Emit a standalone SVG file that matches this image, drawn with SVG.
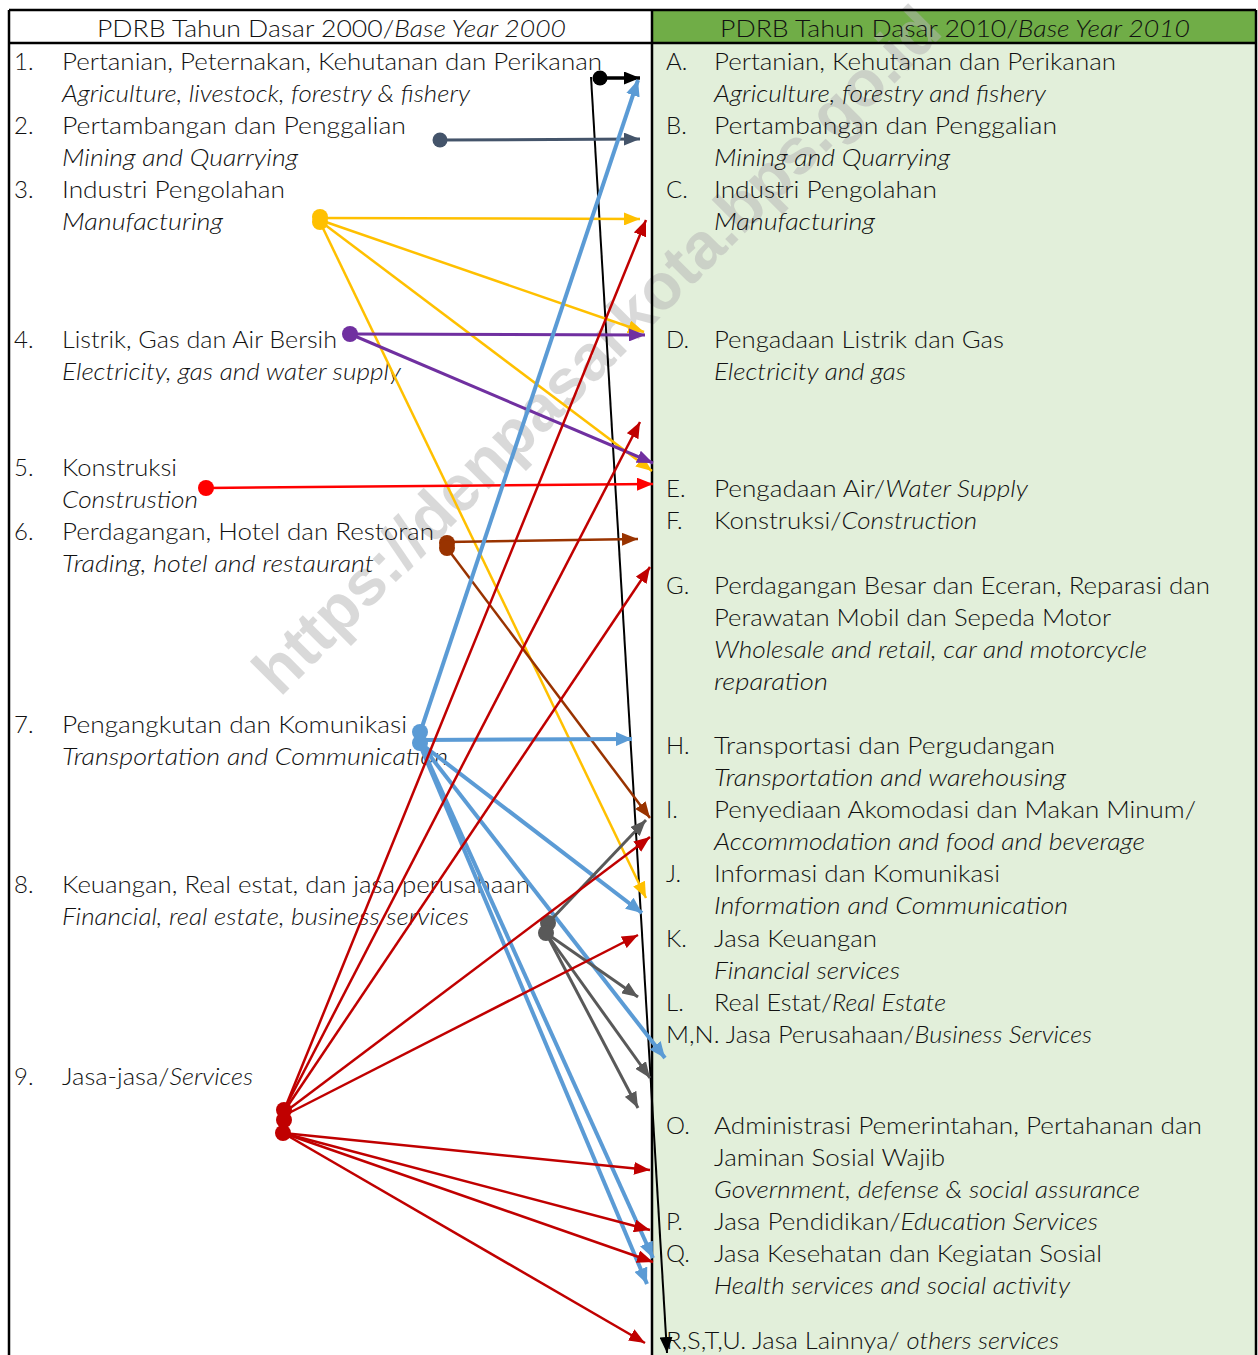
<svg xmlns="http://www.w3.org/2000/svg" width="1258" height="1355" viewBox="0 0 1258 1355">
<style>
text{font-family:"Lato","Liberation Sans",sans-serif;font-weight:300;font-size:24px;fill:#111}
.i{font-style:italic}
.wm{font-family:"Liberation Sans",sans-serif;font-weight:700;font-size:65px;fill:#b5b5b5;opacity:0.5}
.grid{stroke:#000;stroke-width:2.5;fill:none}
line{fill:none;stroke-linecap:butt}
.k{stroke:#000;stroke-width:2;marker-end:url(#mk)}
.k3{stroke:#000;stroke-width:3.5;marker-end:url(#mk)}
.nv{stroke:#44546A;stroke-width:3;marker-end:url(#mnv)}
.y{stroke:#FFC000;stroke-width:2.5;marker-end:url(#my)}
.p{stroke:#7030A0;stroke-width:3;marker-end:url(#mp)}
.r{stroke:#FF0000;stroke-width:2.5;marker-end:url(#mr)}
.br{stroke:#993300;stroke-width:2.5;marker-end:url(#mbr)}
.b{stroke:#5B9BD5;stroke-width:4;marker-end:url(#mb)}
.g{stroke:#595959;stroke-width:3;marker-end:url(#mg)}
.dr{stroke:#C00000;stroke-width:2.5;marker-end:url(#mdr)}
</style>
<defs>
<marker id="mk" markerUnits="userSpaceOnUse" viewBox="0 0 16 13" refX="16" refY="6.5" markerWidth="16" markerHeight="13" orient="auto"><path d="M0,0 L16,6.5 L0,13 z" fill="#000"/></marker>
<marker id="mnv" markerUnits="userSpaceOnUse" viewBox="0 0 16 13" refX="16" refY="6.5" markerWidth="16" markerHeight="13" orient="auto"><path d="M0,0 L16,6.5 L0,13 z" fill="#44546A"/></marker>
<marker id="my" markerUnits="userSpaceOnUse" viewBox="0 0 16 13" refX="16" refY="6.5" markerWidth="16" markerHeight="13" orient="auto"><path d="M0,0 L16,6.5 L0,13 z" fill="#FFC000"/></marker>
<marker id="mp" markerUnits="userSpaceOnUse" viewBox="0 0 16 13" refX="16" refY="6.5" markerWidth="16" markerHeight="13" orient="auto"><path d="M0,0 L16,6.5 L0,13 z" fill="#7030A0"/></marker>
<marker id="mr" markerUnits="userSpaceOnUse" viewBox="0 0 16 13" refX="16" refY="6.5" markerWidth="16" markerHeight="13" orient="auto"><path d="M0,0 L16,6.5 L0,13 z" fill="#FF0000"/></marker>
<marker id="mbr" markerUnits="userSpaceOnUse" viewBox="0 0 16 13" refX="16" refY="6.5" markerWidth="16" markerHeight="13" orient="auto"><path d="M0,0 L16,6.5 L0,13 z" fill="#993300"/></marker>
<marker id="mb" markerUnits="userSpaceOnUse" viewBox="0 0 16 14" refX="16" refY="7" markerWidth="16" markerHeight="14" orient="auto"><path d="M0,0 L16,7 L0,14 z" fill="#5B9BD5"/></marker>
<marker id="mg" markerUnits="userSpaceOnUse" viewBox="0 0 16 13" refX="16" refY="6.5" markerWidth="16" markerHeight="13" orient="auto"><path d="M0,0 L16,6.5 L0,13 z" fill="#595959"/></marker>
<marker id="mdr" markerUnits="userSpaceOnUse" viewBox="0 0 16 13" refX="16" refY="6.5" markerWidth="16" markerHeight="13" orient="auto"><path d="M0,0 L16,6.5 L0,13 z" fill="#C00000"/></marker>
</defs>

<g id="table-bg">
<rect x="0" y="0" width="1258" height="1355" fill="#fff"/>
<rect x="652" y="10" width="604" height="33" fill="#70AD47"/>
<rect x="652" y="43" width="604" height="1312" fill="#E2EFDA"/>
</g>

<g id="watermark">
<text class="wm" transform="translate(280,698) rotate(-45)" textLength="940" lengthAdjust="spacingAndGlyphs">https://denpasarkota.bps.go.id</text>
</g>

<g id="header-2000"><text x="97" y="37" textLength="469" lengthAdjust="spacingAndGlyphs">PDRB Tahun Dasar 2000/<tspan class="i">Base Year 2000</tspan></text></g>
<g id="header-2010"><text x="720" y="37" textLength="470" lengthAdjust="spacingAndGlyphs">PDRB Tahun Dasar 2010/<tspan class="i">Base Year 2010</tspan></text></g>

<g id="left-1"><text x="14" y="70">1.</text><text x="62" y="70" textLength="540" lengthAdjust="spacingAndGlyphs">Pertanian, Peternakan, Kehutanan dan Perikanan</text><text class="i" x="62" y="102" textLength="408" lengthAdjust="spacingAndGlyphs">Agriculture, livestock, forestry &amp; fishery</text></g>
<g id="left-2"><text x="14" y="134">2.</text><text x="62" y="134" textLength="344" lengthAdjust="spacingAndGlyphs">Pertambangan dan Penggalian</text><text class="i" x="62" y="166" textLength="236" lengthAdjust="spacingAndGlyphs">Mining and Quarrying</text></g>
<g id="left-3"><text x="14" y="198">3.</text><text x="62" y="198" textLength="223" lengthAdjust="spacingAndGlyphs">Industri Pengolahan</text><text class="i" x="62" y="230" textLength="161" lengthAdjust="spacingAndGlyphs">Manufacturing</text></g>
<g id="left-4"><text x="14" y="348">4.</text><text x="62" y="348" textLength="275" lengthAdjust="spacingAndGlyphs">Listrik, Gas dan Air Bersih</text><text class="i" x="62" y="380" textLength="339" lengthAdjust="spacingAndGlyphs">Electricity, gas and water supply</text></g>
<g id="left-5"><text x="14" y="476">5.</text><text x="62" y="476" textLength="115" lengthAdjust="spacingAndGlyphs">Konstruksi</text><text class="i" x="62" y="508" textLength="136" lengthAdjust="spacingAndGlyphs">Construstion</text></g>
<g id="left-6"><text x="14" y="540">6.</text><text x="62" y="540" textLength="372" lengthAdjust="spacingAndGlyphs">Perdagangan, Hotel dan Restoran</text><text class="i" x="62" y="572" textLength="312" lengthAdjust="spacingAndGlyphs">Trading, hotel and restaurant</text></g>
<g id="left-7"><text x="14" y="733">7.</text><text x="62" y="733" textLength="345" lengthAdjust="spacingAndGlyphs">Pengangkutan dan Komunikasi</text><text class="i" x="62" y="765" textLength="386" lengthAdjust="spacingAndGlyphs">Transportation and Communication</text></g>
<g id="left-8"><text x="14" y="893">8.</text><text x="62" y="893" textLength="468" lengthAdjust="spacingAndGlyphs">Keuangan, Real estat, dan jasa perusahaan</text><text class="i" x="62" y="925" textLength="407" lengthAdjust="spacingAndGlyphs">Financial, real estate, business services</text></g>
<g id="left-9"><text x="14" y="1085">9.</text><text x="62" y="1085" textLength="191" lengthAdjust="spacingAndGlyphs">Jasa-jasa/<tspan class="i">Services</tspan></text></g>

<g id="right-A"><text x="666" y="70">A.</text><text x="714" y="70" textLength="402" lengthAdjust="spacingAndGlyphs">Pertanian, Kehutanan dan Perikanan</text><text class="i" x="714" y="102" textLength="332" lengthAdjust="spacingAndGlyphs">Agriculture, forestry and fishery</text></g>
<g id="right-B"><text x="666" y="134">B.</text><text x="714" y="134" textLength="343" lengthAdjust="spacingAndGlyphs">Pertambangan dan Penggalian</text><text class="i" x="714" y="166" textLength="236" lengthAdjust="spacingAndGlyphs">Mining and Quarrying</text></g>
<g id="right-C"><text x="666" y="198">C.</text><text x="714" y="198" textLength="223" lengthAdjust="spacingAndGlyphs">Industri Pengolahan</text><text class="i" x="714" y="230" textLength="161" lengthAdjust="spacingAndGlyphs">Manufacturing</text></g>
<g id="right-D"><text x="666" y="348">D.</text><text x="714" y="348" textLength="290" lengthAdjust="spacingAndGlyphs">Pengadaan Listrik dan Gas</text><text class="i" x="714" y="380" textLength="192" lengthAdjust="spacingAndGlyphs">Electricity and gas</text></g>
<g id="right-E"><text x="666" y="497">E.</text><text x="714" y="497" textLength="314" lengthAdjust="spacingAndGlyphs">Pengadaan Air/<tspan class="i">Water Supply</tspan></text></g>
<g id="right-F"><text x="666" y="529">F.</text><text x="714" y="529" textLength="263" lengthAdjust="spacingAndGlyphs">Konstruksi/<tspan class="i">Construction</tspan></text></g>
<g id="right-G"><text x="666" y="594">G.</text><text x="714" y="594" textLength="496" lengthAdjust="spacingAndGlyphs">Perdagangan Besar dan Eceran, Reparasi dan</text><text x="714" y="626" textLength="397" lengthAdjust="spacingAndGlyphs">Perawatan Mobil dan Sepeda Motor</text><text class="i" x="714" y="658" textLength="433" lengthAdjust="spacingAndGlyphs">Wholesale and retail, car and motorcycle</text><text class="i" x="714" y="690" textLength="114" lengthAdjust="spacingAndGlyphs">reparation</text></g>
<g id="right-H"><text x="666" y="754">H.</text><text x="714" y="754" textLength="341" lengthAdjust="spacingAndGlyphs">Transportasi dan Pergudangan</text><text class="i" x="714" y="786" textLength="352" lengthAdjust="spacingAndGlyphs">Transportation and warehousing</text></g>
<g id="right-I"><text x="666" y="818">I.</text><text x="714" y="818" textLength="482" lengthAdjust="spacingAndGlyphs">Penyediaan Akomodasi dan Makan Minum/</text><text class="i" x="714" y="850" textLength="431" lengthAdjust="spacingAndGlyphs">Accommodation and food and beverage</text></g>
<g id="right-J"><text x="666" y="882">J.</text><text x="714" y="882" textLength="286" lengthAdjust="spacingAndGlyphs">Informasi dan Komunikasi</text><text class="i" x="714" y="914" textLength="354" lengthAdjust="spacingAndGlyphs">Information and Communication</text></g>
<g id="right-K"><text x="666" y="947">K.</text><text x="714" y="947" textLength="163" lengthAdjust="spacingAndGlyphs">Jasa Keuangan</text><text class="i" x="714" y="979" textLength="186" lengthAdjust="spacingAndGlyphs">Financial services</text></g>
<g id="right-L"><text x="666" y="1011">L.</text><text x="714" y="1011" textLength="232" lengthAdjust="spacingAndGlyphs">Real Estat/<tspan class="i">Real Estate</tspan></text></g>
<g id="right-MN"><text x="666" y="1043" textLength="426" lengthAdjust="spacingAndGlyphs">M,N. Jasa Perusahaan/<tspan class="i">Business Services</tspan></text></g>
<g id="right-O"><text x="666" y="1134">O.</text><text x="714" y="1134" textLength="488" lengthAdjust="spacingAndGlyphs">Administrasi Pemerintahan, Pertahanan dan</text><text x="714" y="1166" textLength="231" lengthAdjust="spacingAndGlyphs">Jaminan Sosial Wajib</text><text class="i" x="714" y="1198" textLength="426" lengthAdjust="spacingAndGlyphs">Government, defense &amp; social assurance</text></g>
<g id="right-P"><text x="666" y="1230">P.</text><text x="714" y="1230" textLength="384" lengthAdjust="spacingAndGlyphs">Jasa Pendidikan/<tspan class="i">Education Services</tspan></text></g>
<g id="right-Q"><text x="666" y="1262">Q.</text><text x="714" y="1262" textLength="388" lengthAdjust="spacingAndGlyphs">Jasa Kesehatan dan Kegiatan Sosial</text><text class="i" x="714" y="1294" textLength="356" lengthAdjust="spacingAndGlyphs">Health services and social activity</text></g>
<g id="right-RSTU"><text x="666" y="1349" textLength="393" lengthAdjust="spacingAndGlyphs">R,S,T,U. Jasa Lainnya/ <tspan class="i">others services</tspan></text></g>

<g id="table-grid" class="grid">
<line x1="9" y1="10" x2="1256" y2="10"/>
<line x1="9" y1="43" x2="1256" y2="43"/>
<line x1="9" y1="10" x2="9" y2="1355"/>
<line x1="652" y1="10" x2="652" y2="1355"/>
<line x1="1256" y1="10" x2="1256" y2="1355"/>
</g>

<g id="connectors">
<line class="k" x1="591" y1="77" x2="667" y2="1353"/>
<line class="k3" x1="600" y1="78" x2="640" y2="78"/>
<circle cx="600" cy="78" r="7.5" fill="#000"/>

<line class="nv" x1="440" y1="140" x2="640" y2="139"/>
<circle cx="440" cy="140" r="7.5" fill="#44546A"/>

<line class="y" x1="320" y1="218" x2="640" y2="219"/>
<line class="y" x1="320" y1="220" x2="644" y2="332"/>
<line class="y" x1="320" y1="221" x2="652" y2="471"/>
<line class="y" x1="320" y1="222" x2="646" y2="898"/>
<circle cx="320" cy="217" r="8" fill="#FFC000"/>
<circle cx="320" cy="222" r="8" fill="#FFC000"/>

<line class="p" x1="350" y1="334" x2="645" y2="335"/>
<line class="p" x1="350" y1="334" x2="653" y2="463"/>
<circle cx="350" cy="334" r="8" fill="#7030A0"/>

<line class="r" x1="206" y1="488" x2="653" y2="484"/>
<circle cx="206" cy="488" r="8" fill="#FF0000"/>

<line class="br" x1="447" y1="542" x2="638" y2="539"/>
<line class="br" x1="447" y1="548" x2="650" y2="818"/>
<circle cx="447" cy="543" r="8" fill="#993300"/>
<circle cx="447" cy="548" r="8" fill="#993300"/>

<line class="b" x1="420" y1="733" x2="638" y2="80"/>
<line class="b" x1="420" y1="740" x2="632" y2="739"/>
<line class="b" x1="420" y1="743" x2="642" y2="913"/>
<line class="b" x1="420" y1="743" x2="665" y2="1058"/>
<line class="b" x1="420" y1="743" x2="653" y2="1258"/>
<line class="b" x1="420" y1="745" x2="647" y2="1284"/>
<circle cx="420" cy="732" r="8" fill="#5B9BD5"/>
<circle cx="420" cy="743" r="8" fill="#5B9BD5"/>

<line class="g" x1="548" y1="923" x2="646" y2="820"/>
<line class="g" x1="546" y1="933" x2="638" y2="997"/>
<line class="g" x1="546" y1="933" x2="650" y2="1078"/>
<line class="g" x1="546" y1="933" x2="638" y2="1108"/>
<circle cx="548" cy="923" r="8" fill="#595959"/>
<circle cx="546" cy="933" r="8" fill="#595959"/>

<line class="dr" x1="285" y1="1108" x2="646" y2="220"/>
<line class="dr" x1="285" y1="1108" x2="640" y2="422"/>
<line class="dr" x1="285" y1="1110" x2="650" y2="567"/>
<line class="dr" x1="285" y1="1112" x2="650" y2="837"/>
<line class="dr" x1="285" y1="1115" x2="638" y2="935"/>
<line class="dr" x1="283" y1="1133" x2="650" y2="1170"/>
<line class="dr" x1="283" y1="1133" x2="650" y2="1230"/>
<line class="dr" x1="283" y1="1133" x2="653" y2="1262"/>
<line class="dr" x1="283" y1="1133" x2="645" y2="1343"/>
<circle cx="284" cy="1110" r="8" fill="#C00000"/>
<circle cx="284" cy="1120" r="8" fill="#C00000"/>
<circle cx="283" cy="1133" r="8" fill="#C00000"/>
</g>
</svg>
